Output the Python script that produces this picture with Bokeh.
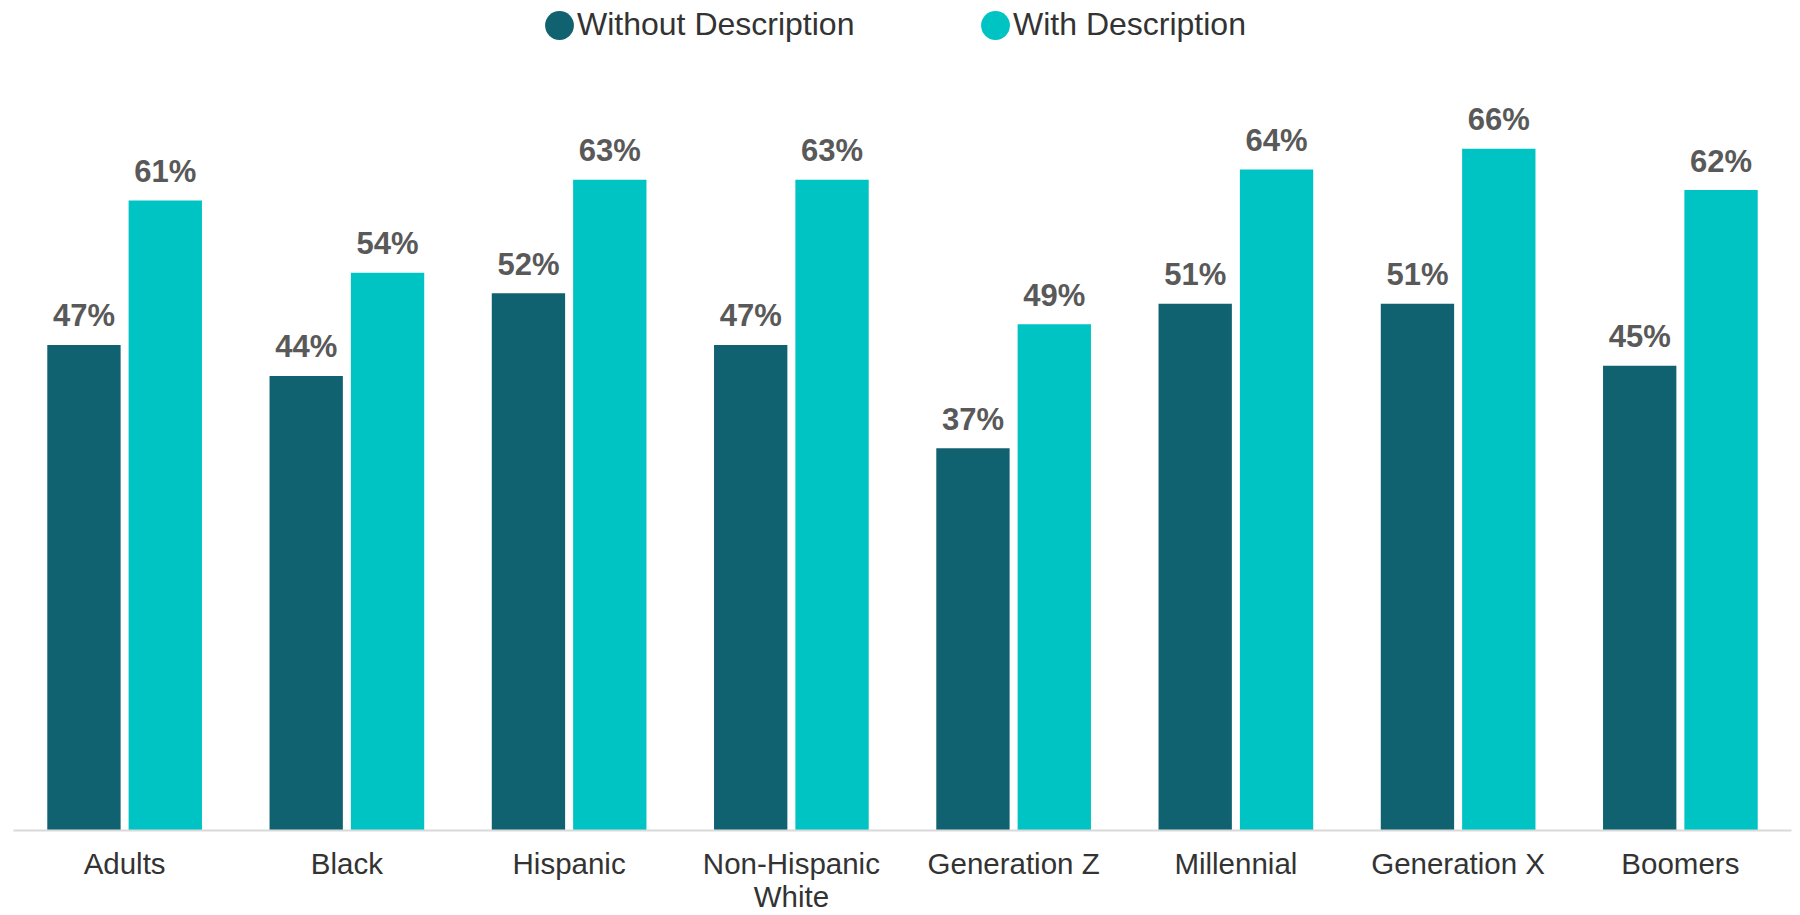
from bokeh.plotting import figure
from bokeh.models import ColumnDataSource, FactorRange, Range1d, Legend, LegendItem
from bokeh.transform import dodge
from bokeh.embed import file_html
from bokeh.resources import INLINE
from bokeh.core.properties import value

categories = ["Adults", "Black", "Hispanic", "Non-Hispanic\nWhite", "Generation Z",
              "Millennial", "Generation X", "Boomers"]
without_desc = [47, 44, 52, 47, 37, 51, 51, 45]
with_desc = [61, 54, 63, 63, 49, 64, 66, 62]
series_names = ["Without Description", "With Description"]
colors = ["#116271", "#00C3C3"]

src = ColumnDataSource(dict(
    cat=categories,
    wo=without_desc,
    wi=with_desc,
    wo_half=[v / 2 for v in without_desc],
    wi_half=[v / 2 for v in with_desc],
    wo_lbl=[f"{v}%" for v in without_desc],
    wi_lbl=[f"{v}%" for v in with_desc],
))

FONT = "Liberation Sans"
OFF = 0.183
BW = 0.33

p = figure(x_range=FactorRange(factors=categories, range_padding=0),
           y_range=Range1d(0, 80.35),
           width=1792, height=915, output_backend="svg", toolbar_location=None,
           min_border_left=13, min_border_right=1, min_border_top=0, min_border_bottom=75)

# legend swatches (hidden under the bars)
e0 = p.ellipse(x=dodge("cat", -OFF, range=p.x_range), y="wo_half", width=29, height=29,
               width_units="screen", height_units="screen", fill_color=colors[0],
               line_color=None, source=src)
e1 = p.ellipse(x=dodge("cat", OFF, range=p.x_range), y="wi_half", width=29, height=29,
               width_units="screen", height_units="screen", fill_color=colors[1],
               line_color=None, source=src)

p.vbar(x=dodge("cat", -OFF, range=p.x_range), top="wo", width=BW, source=src,
       fill_color=colors[0], line_color=None)
p.vbar(x=dodge("cat", OFF, range=p.x_range), top="wi", width=BW, source=src,
       fill_color=colors[1], line_color=None)

for key, off in (("wo", -OFF), ("wi", OFF)):
    p.text(x=dodge("cat", off, range=p.x_range), y=key, text=key + "_lbl", source=src,
           text_align="center", text_baseline="alphabetic", y_offset=-29,
           text_font=value(FONT), text_font_style="bold", text_font_size="31px",
           text_color="#595959")

legend = Legend(items=[LegendItem(label=series_names[0], renderers=[e0], index=0),
                       LegendItem(label=series_names[1], renderers=[e1], index=0)],
                orientation="horizontal", location=(528, 787),
                glyph_width=36, glyph_height=36, label_standoff=0, label_width=400,
                spacing=0, padding=0, margin=0, border_line_color=None,
                background_fill_alpha=0, label_text_font=FONT,
                label_text_font_size="32px", label_text_color="#333333")
p.add_layout(legend, "center")

p.yaxis.visible = False
p.xgrid.visible = False
p.ygrid.visible = False
p.outline_line_color = None
p.xaxis.axis_line_color = "#D9D9D9"
p.xaxis.axis_line_width = 2
p.xaxis.major_tick_line_color = None
p.xaxis.minor_tick_line_color = None
p.xaxis.major_tick_out = 0
p.xaxis.major_tick_in = 0
p.xaxis.major_label_standoff = 16
p.xaxis.major_label_text_font = FONT
p.xaxis.major_label_text_font_size = "29.5px"
p.xaxis.major_label_text_color = "#333333"
p.xaxis.major_label_text_line_height = 1.0

open("out.html", "w").write(file_html(p, INLINE))
